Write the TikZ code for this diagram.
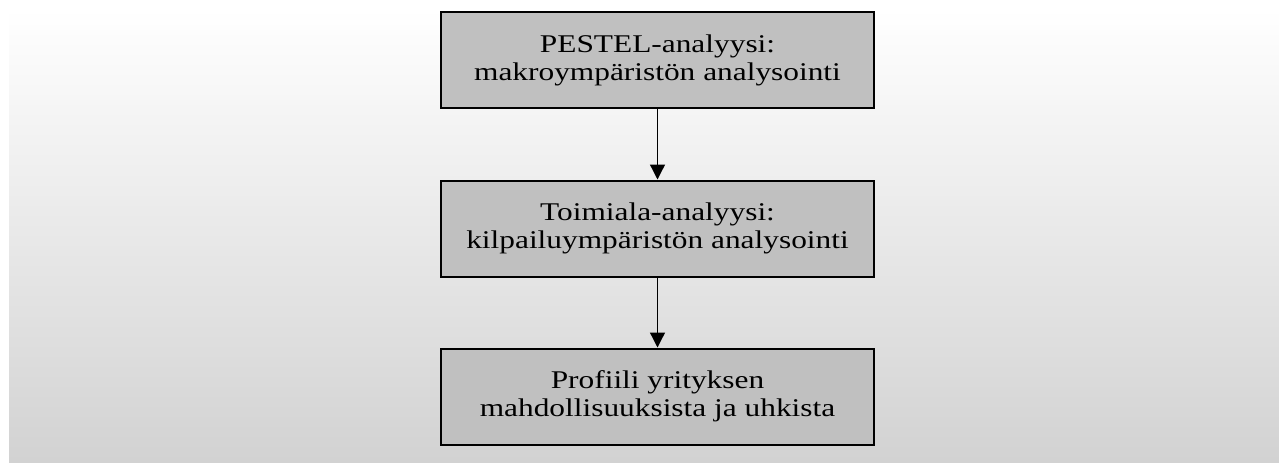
\documentclass[tikz,border=0pt]{standalone}
\usepackage{fontspec}
\setmainfont{Liberation Serif}
\usetikzlibrary{arrows.meta}
\definecolor{boxgray}{RGB}{192,192,192}
\definecolor{bgtop}{RGB}{255,255,255}
\definecolor{bgbottom}{RGB}{210,210,210}
% the box lettering is set a little wider than the typeface's own proportions
\newcommand{\wideline}[1]{\scalebox{1.23}[1]{#1}}
\tikzset{
  stagebox/.style={draw=black, line width=2pt, fill=boxgray,
    minimum width=433pt, minimum height=96pt, inner sep=0pt,
    align=center, font=\fontsize{25.5pt}{28pt}\selectfont},
  flow/.style={line width=1.3pt, -{Triangle[width=15pt,length=15pt]}}
}
\begin{document}
\begin{tikzpicture}[x=1pt,y=-1pt]
  \useasboundingbox (0,0) rectangle (1279,463);
  \shade[top color=bgtop, bottom color=bgbottom] (9,9) rectangle (1279,462);
  \node[stagebox] (pestel) at (657.5,60)
    {\wideline{PESTEL-analyysi:}\\\wideline{makroympäristön analysointi}};
  \node[stagebox] (toimiala) at (657.5,228.5)
    {\wideline{Toimiala-analyysi:}\\\wideline{kilpailuympäristön analysointi}};
  \node[stagebox] (profiili) at (657.5,396.5)
    {\wideline{Profiili yrityksen}\\\wideline{mahdollisuuksista ja uhkista}};
  \draw[flow] (pestel) -- (toimiala);
  \draw[flow] (toimiala) -- (profiili);
\end{tikzpicture}
\end{document}
